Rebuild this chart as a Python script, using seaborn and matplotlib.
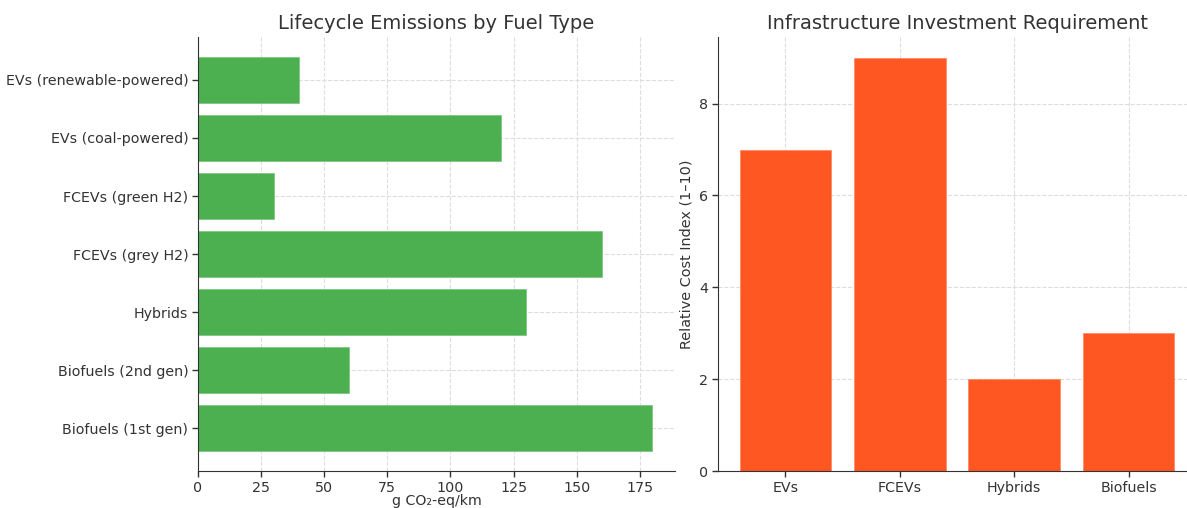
import pandas as pd
import seaborn as sns
import matplotlib.pyplot as plt

# Lifecycle emissions (top to bottom as drawn)
fuel_types = ['EVs (renewable-powered)', 'EVs (coal-powered)', 'FCEVs (green H2)',
              'FCEVs (grey H2)', 'Hybrids', 'Biofuels (2nd gen)', 'Biofuels (1st gen)']
emissions = [40, 120, 30, 160, 130, 60, 180]

# Infrastructure investment
tech = ['EVs', 'FCEVs', 'Hybrids', 'Biofuels']
cost_index = [7, 9, 2, 3]

df_em = pd.DataFrame({'fuel': fuel_types, 'emissions': emissions})
df_cost = pd.DataFrame({'tech': tech, 'cost': cost_index})

sns.set_style('whitegrid', {
    'grid.linestyle': '--',
    'grid.color': '#dddddd',
    'axes.edgecolor': '#333333',
    'axes.linewidth': 1.2,
    'xtick.bottom': True,
    'ytick.left': True,
    'text.color': '#333333',
    'axes.labelcolor': '#333333',
    'xtick.color': '#333333',
    'ytick.color': '#333333',
})
plt.rcParams['font.family'] = ['DejaVu Sans']
plt.rcParams['font.size'] = 10

fig = plt.figure(figsize=(11.87, 5.08), dpi=100)
ax1 = fig.add_axes([0.1668, 0.0728, 0.4019, 0.8543])
ax2 = fig.add_axes([0.6049, 0.0728, 0.4027, 0.8543])

# Left: horizontal bars
sns.barplot(data=df_em, x='emissions', y='fuel', color='#4CAF50', saturation=1,
            width=0.8, edgecolor='#6cbf6f', linewidth=0.4, ax=ax1)
ax1.set_ylim(6.74, -0.74)
ax1.set_xlim(0, 189)
ax1.set_xticks([0, 25, 50, 75, 100, 125, 150, 175])
ax1.set_title('Lifecycle Emissions by Fuel Type', fontsize=14)
ax1.set_xlabel('g CO₂-eq/km', fontsize=10.2, labelpad=-0.5)
ax1.set_ylabel('')

# Right: vertical bars
sns.barplot(data=df_cost, x='tech', y='cost', color='#FF5722', saturation=1,
            width=0.8, edgecolor='#ff7a52', linewidth=0.4, ax=ax2)
ax2.set_xlim(-0.59, 3.59)
ax2.set_ylim(0, 9.45)
ax2.set_yticks([0, 2, 4, 6, 8])
ax2.set_title('Infrastructure Investment Requirement', fontsize=14)
ax2.set_ylabel('Relative Cost Index (1–10)', fontsize=10.4)
ax2.set_xlabel('')

for ax in (ax1, ax2):
    ax.grid(True, axis='both', linestyle='--', color='#dddddd', linewidth=0.8)
    ax.set_axisbelow(True)
    for s in ('top', 'right'):
        ax.spines[s].set_visible(False)
    ax.tick_params(length=4, width=1, labelsize=10.3, pad=3)

fig.savefig('out.png', dpi=100)
